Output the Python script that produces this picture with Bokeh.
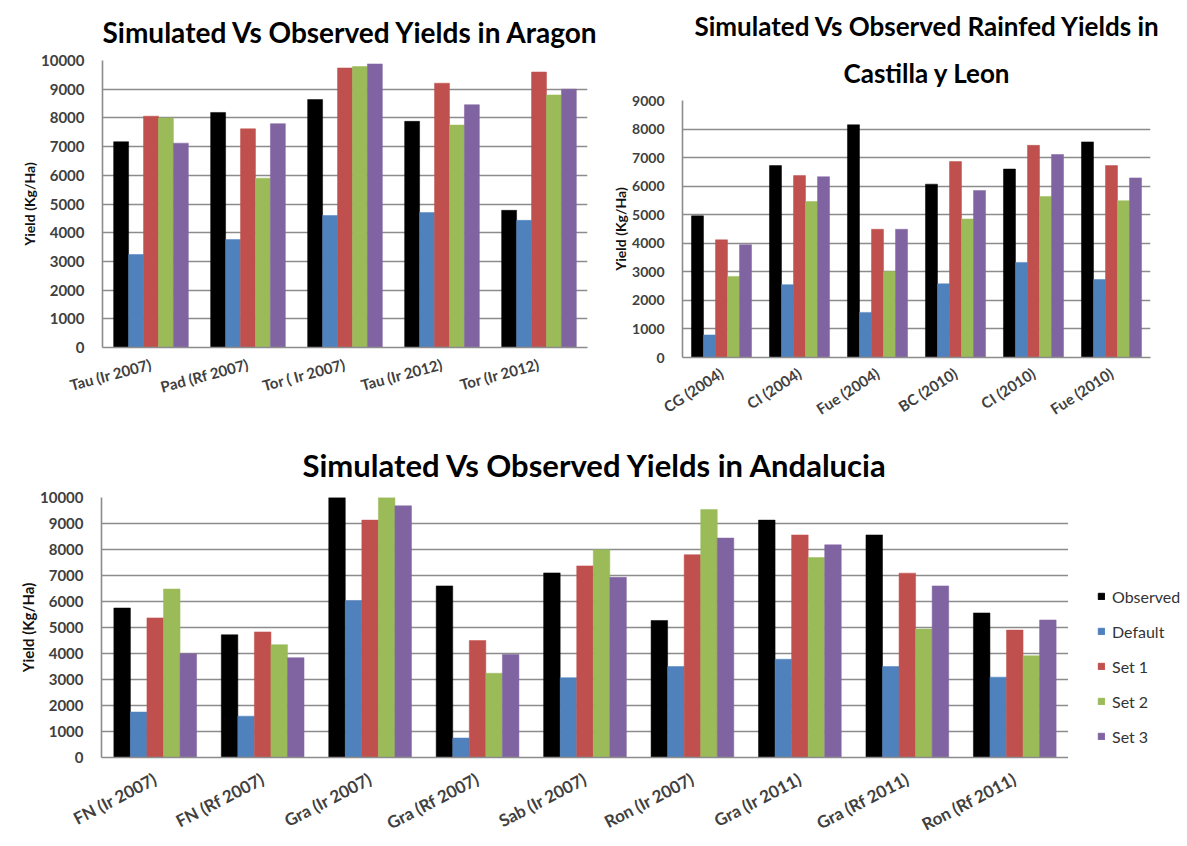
import math
from bokeh.plotting import figure
from bokeh.layouts import column, row
from bokeh.models import (ColumnDataSource, FactorRange, Range1d, FixedTicker,
                          Legend, LegendItem, Title)
from bokeh.transform import dodge
from bokeh.embed import file_html
from bokeh.resources import INLINE

series = ["Observed", "Default", "Set 1", "Set 2", "Set 3"]
colors = ["#000000", "#4F81BD", "#C0504D", "#9BBB59", "#8064A2"]

# Aragon (kg/ha)
aragon_sites = ["Tau (Ir 2007)", "Pad (Rf 2007)", "Tor ( Ir 2007)", "Tau (Ir 2012)", "Tor (Ir 2012)"]
aragon_observed = [7170, 8190, 8640, 7880, 4780]
aragon_default = [3240, 3760, 4600, 4700, 4430]
aragon_set1 = [8060, 7620, 9740, 9210, 9600]
aragon_set2 = [8000, 5900, 9790, 7750, 8800]
aragon_set3 = [7120, 7800, 9880, 8460, 9000]

# Castilla y Leon, rainfed (kg/ha)
cyl_sites = ["CG (2004)", "CI (2004)", "Fue (2004)", "BC (2010)", "CI (2010)", "Fue (2010)"]
cyl_observed = [4960, 6720, 8150, 6070, 6600, 7550]
cyl_default = [790, 2550, 1580, 2580, 3330, 2730]
cyl_set1 = [4120, 6370, 4490, 6860, 7430, 6720]
cyl_set2 = [2840, 5460, 3010, 4850, 5640, 5490]
cyl_set3 = [3950, 6330, 4490, 5850, 7110, 6290]

# Andalucia (kg/ha)
and_sites = ["FN (Ir 2007)", "FN (Rf 2007)", "Gra (Ir 2007)", "Gra (Rf 2007)", "Sab (Ir 2007)",
             "Ron (Ir 2007)", "Gra (Ir 2011)", "Gra (Rf 2011)", "Ron (Rf 2011)"]
and_observed = [5750, 4720, 10000, 6600, 7100, 5270, 9130, 8560, 5560]
and_default = [1750, 1590, 6040, 750, 3070, 3500, 3780, 3500, 3090]
and_set1 = [5370, 4830, 9130, 4500, 7370, 7800, 8560, 7090, 4900]
and_set2 = [6480, 4340, 10040, 3240, 7990, 9540, 7690, 4940, 3910]
and_set3 = [3990, 3840, 9680, 3960, 6930, 8440, 8180, 6600, 5290]

FONT = "Lato"
GRID = "#8c8c8c"
TICK_COLOR = "#404040"
BAR_W = 0.154


def style_title(t, size, standoff, offset):
    t.align = "left"
    t.text_font = FONT
    t.text_font_style = "bold"
    t.text_font_size = size
    t.text_color = "#000000"
    t.standoff = standoff
    t.offset = offset


def bar_chart(sites, cols, title, ymax, width, height, borders, title_size,
              title_standoff, title_offset, tick_size, xlab_size, angle, ylab_size,
              xlab_standoff):
    left, right, top, bottom = borders
    p = figure(x_range=FactorRange(*sites), y_range=Range1d(0, ymax),
               width=width, height=height, output_backend="svg",
               toolbar_location=None, min_border_left=left, min_border_right=right,
               min_border_top=top, min_border_bottom=bottom)
    p.frame_align = False
    p.title.text = title
    style_title(p.title, title_size, title_standoff, title_offset)

    data = {"site": sites}
    for name, vals in zip(series, cols):
        data[name] = vals
    src = ColumnDataSource(data)
    for i, (name, color) in enumerate(zip(series, colors)):
        p.vbar(x=dodge("site", (i - 2) * BAR_W, range=p.x_range), top=name,
               width=BAR_W, source=src, fill_color=color, line_color=color,
               line_width=0.5)

    p.outline_line_color = None
    p.background_fill_color = "white"
    p.border_fill_color = "white"
    p.xgrid.grid_line_color = None
    p.ygrid.grid_line_color = GRID
    p.ygrid.grid_line_width = 1.6
    p.yaxis.ticker = FixedTicker(ticks=list(range(0, ymax + 1, 1000)))

    for ax in (p.xaxis[0], p.yaxis[0]):
        ax.axis_line_color = GRID
        ax.axis_line_width = 1.6
        ax.major_tick_line_color = None
        ax.minor_tick_line_color = None
        ax.major_label_text_font = FONT
        ax.major_label_text_color = TICK_COLOR
        ax.major_label_text_font_style = "bold"

    p.yaxis.major_label_text_font_size = tick_size
    p.yaxis.major_label_standoff = 12
    p.yaxis.axis_label = "Yield (Kg/Ha)"
    p.yaxis.axis_label_text_font = FONT
    p.yaxis.axis_label_text_font_style = "bold"
    p.yaxis.axis_label_text_font_size = ylab_size
    p.yaxis.axis_label_text_color = "#111111"
    p.yaxis.axis_label_standoff = 0

    p.xaxis.major_label_text_font_size = xlab_size
    p.xaxis.major_label_orientation = angle
    p.xaxis.major_label_standoff = xlab_standoff
    return p


p1 = bar_chart(aragon_sites,
               [aragon_observed, aragon_default, aragon_set1, aragon_set2, aragon_set3],
               "Simulated Vs Observed Yields in Aragon", 10000,
               600, 430, (102, 13, 60, 83), "28px", 24, 0, "15px", "15px",
               math.radians(15), "14px", 10)

# Two-line title: the figure title is the upper line, the added one sits below it
p2 = bar_chart(cyl_sites,
               [cyl_observed, cyl_default, cyl_set1, cyl_set2, cyl_set3],
               "Simulated Vs Observed Rainfed Yields in", 9000,
               587, 430, (82, 37, 100, 73), "26px", 4, 12, "14px", "15px",
               math.radians(33), "14px", 8)
line2 = Title(text="Castilla y Leon")
style_title(line2, "26px", 23, 161)
p2.add_layout(line2, "above")

p3 = bar_chart(and_sites,
               [and_observed, and_default, and_set1, and_set2, and_set3],
               "Simulated Vs Observed Yields in Andalucia", 10000,
               1068, 416, (101, 0, 67, 89), "31px", 27, 201, "15px", "17px",
               math.radians(27.5), "15px", 14)

# Legend for the Andalucia chart, drawn in a narrow side panel.
# The key's bars sit outside its visible range; only their legend swatches show.
key = figure(width=119, height=416, output_backend="svg", toolbar_location=None,
             x_range=Range1d(0, 1), y_range=Range1d(0, 1),
             x_axis_type=None, y_axis_type=None, min_border=0)
key.frame_align = False
key.outline_line_color = None
key.xgrid.grid_line_color = None
key.ygrid.grid_line_color = None
key_items = []
for name, color in zip(series, colors):
    r = key.vbar(x=[5], top=[1], width=0.1, fill_color=color, line_color=color)
    key_items.append(LegendItem(label=name, renderers=[r]))
legend = Legend(items=key_items, location=(29, 100), glyph_width=8, glyph_height=8,
                label_height=20, spacing=15, padding=0, margin=0, label_standoff=7,
                label_text_font=FONT, label_text_font_size="16px",
                label_text_color="#333333", border_line_color=None,
                background_fill_alpha=0)
key.add_layout(legend, "center")

layout = column(row(p1, p2), row(p3, key))
open("out.html", "w").write(file_html(layout, INLINE))
